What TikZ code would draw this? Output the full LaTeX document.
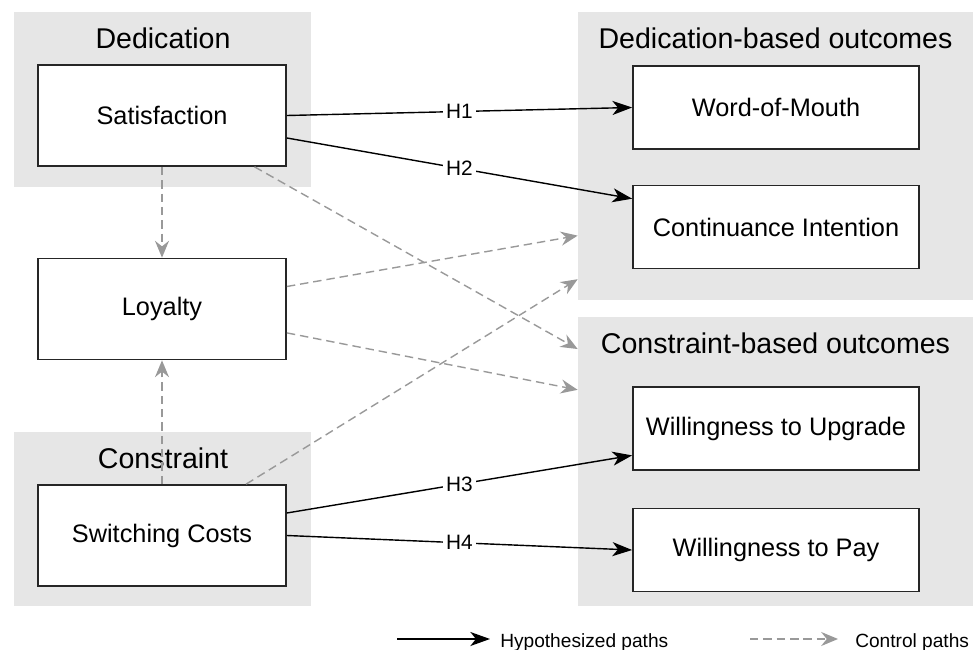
\documentclass[tikz,border=0pt]{standalone}
\usepackage{fontspec}
\setmainfont{Liberation Sans}
\usetikzlibrary{arrows.meta}
\definecolor{panelgray}{HTML}{E6E6E6}
\definecolor{ctrlgray}{HTML}{999999}
\begin{document}
\begin{tikzpicture}[x=0.025cm, y=-0.025cm,
		panel/.style={fill=panelgray, draw=none, inner sep=0pt},
		title/.style={font=\fontsize{20.3}{22}\selectfont},
		lbox/.style={draw=black!85, line width=1.2pt, fill=white, minimum width=6.2cm, minimum height=2.525cm, font=\fontsize{18}{20}\selectfont},
		rbox/.style={draw=black!85, line width=1.2pt, fill=white, minimum width=7.15cm, minimum height=2.075cm, font=\fontsize{18}{20}\selectfont},
		hyp/.style={line width=1pt, -{Stealth[length=14pt, width=10pt, inset=4pt]}},
		ctrl/.style={ctrlgray, line width=1pt, dash pattern=on 6pt off 3.5pt, -{Stealth[length=12pt, width=10pt, inset=4pt]}},
		hlab/.style={fill=white, inner sep=2pt, font=\fontsize{14.8}{16}\selectfont},
		leg/.style={font=\fontsize{13.6}{15}\selectfont, anchor=west, inner sep=0pt}]
	\useasboundingbox (0,0) rectangle (975,650);
	% panels
	\node[panel, minimum width=7.425cm, minimum height=4.375cm] (dpan) at (162.5,99.5) {};
	\node[panel, minimum width=7.425cm, minimum height=4.35cm] (cpan) at (162.5,519) {};
	\node[panel, minimum width=9.875cm, minimum height=7.2cm] (dbo) at (775.5,156) {};
	\node[panel, minimum width=9.875cm, minimum height=7.225cm] (cbo) at (775.5,461.5) {};
	\node[title] (dtit) at (163,38) {Dedication};
	\node[title] (ctit) at (163,458) {Constraint};
	\node[title] (dbotit) at (775.5,38) {Dedication-based outcomes};
	\node[title] (cbotit) at (775.5,343) {Constraint-based outcomes};
	% constructs
	\node[lbox] (sat) at (162,115.5) {Satisfaction};
	\node[lbox] (loy) at (162,309) {Loyalty};
	\node[lbox] (sw) at (162,535.5) {Switching Costs};
	\node[rbox] (wom) at (776,107.5) {Word-of-Mouth};
	\node[rbox] (ci) at (776,227) {Continuance Intention};
	\node[rbox] (wtu) at (776,428.5) {Willingness to Upgrade};
	\node[rbox] (wtp) at (776,550) {Willingness to Pay};
	% control paths
	\draw[ctrl] (sat.south) -- (loy.north);
	\draw[ctrl] (sw.north) -- (loy.south);
	\draw[ctrl] ([xshift=-23pt]sat.south east) -- ([yshift=-23pt]cbo.north west);
	\draw[ctrl] ([yshift=16pt]loy.east) -- ([yshift=46pt]dbo.south west);
	\draw[ctrl] ([yshift=-17pt]loy.east) -- ([yshift=-52pt]cbo.north west);
	\draw[ctrl] ([xshift=-29pt]sw.north east) -- ([yshift=15pt]dbo.south west);
	% hypothesized paths
	\draw[hyp] (sat.east) -- node[hlab] {H1} (wom.west);
	\draw[hyp] ([yshift=-16pt]sat.east) -- node[hlab] {H2} ([yshift=-10pt]ci.north west);
	\draw[hyp] ([yshift=16pt]sw.east) -- node[hlab] {H3} ([yshift=11pt]wtu.south west);
	\draw[hyp] (sw.east) -- node[hlab] {H4} (wtp.west);
	% legend
	\coordinate (hs) at (397,639);
	\coordinate (he) at (490,639);
	\node[leg] (hyptxt) at (500,643) {Hypothesized paths};
	\draw[hyp] (hs) -- (he);
	\coordinate (cs) at (750,639);
	\coordinate (ce) at (838,639);
	\node[leg] (ctltxt) at (855,643) {Control paths};
	\draw[ctrl] (cs) -- (ce);
\end{tikzpicture}
\end{document}
